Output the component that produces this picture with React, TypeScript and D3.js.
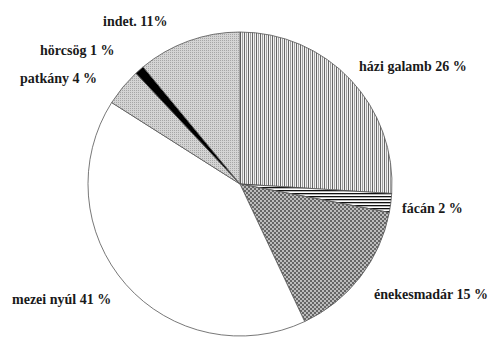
import React from "react";
import * as d3 from "d3";

const categories = ["házi galamb", "fácán", "énekesmadár", "mezei nyúl", "patkány", "hörcsög", "indet."];
const values = [26, 2, 15, 41, 4, 1, 11];
const labels = ["házi galamb 26 %", "fácán 2 %", "énekesmadár 15 %", "mezei nyúl 41 %", "patkány 4 %", "hörcsög 1 %", "indet. 11%"];

const fills = ["url(#pVert)", "url(#pHoriz)", "url(#pDots)", "#ffffff", "url(#pLight)", "#000000", "url(#pLight)"];
const labelPos: [number, number][] = [
  [359, 71], [402, 213], [374, 299], [12, 304], [20, 83], [40, 55], [103, 26],
];

const W = 493, H = 337;
const cx = 240, cy = 184, R = 152;

export default function App() {
  const pie = d3.pie<number>().sort(null).value((d) => d)(values);
  const arc = d3.arc<d3.PieArcDatum<number>>().innerRadius(0).outerRadius(R);
  return (
    <svg width={W} height={H} style={{ position: "absolute", left: 0, top: 0, background: "#fff" }}>
      <defs>
        <pattern id="pVert" width="4" height="4" patternUnits="userSpaceOnUse">
          <rect width="4" height="4" fill="#f2f2f2" />
          <rect x="0" width="1" height="4" fill="#666" />
          <rect x="2" width="1" height="4" fill="#a0a0a0" />
        </pattern>
        <pattern id="pHoriz" width="4" height="3" patternUnits="userSpaceOnUse">
          <rect width="4" height="3" fill="#ffffff" />
          <rect y="0" width="4" height="1.3" fill="#111" />
        </pattern>
        <pattern id="pDots" width="4" height="4" patternUnits="userSpaceOnUse">
          <rect width="4" height="4" fill="#666" />
          <circle cx="1" cy="1" r="0.9" fill="#e6e6e6" />
          <circle cx="3" cy="3" r="0.9" fill="#e6e6e6" />
        </pattern>
        <pattern id="pLight" width="2" height="2" patternUnits="userSpaceOnUse">
          <rect width="2" height="2" fill="#d4d4d4" />
          <rect x="0" y="0" width="1" height="1" fill="#a6a6a6" />
        </pattern>
      </defs>
      <g transform={`translate(${cx},${cy})`}>
        {pie.map((d, i) => (
          <path key={categories[i]} d={arc(d) || ""} fill={fills[i]} stroke="#555" strokeWidth={0.8} />
        ))}
      </g>
      {labels.map((t, i) => (
        <text
          key={t}
          x={labelPos[i][0]}
          y={labelPos[i][1]}
          style={{ fontFamily: "Liberation Serif", fontWeight: "bold", fontSize: "14px" }}
          fill="#1a1a1a"
        >
          {t}
        </text>
      ))}
    </svg>
  );
}
